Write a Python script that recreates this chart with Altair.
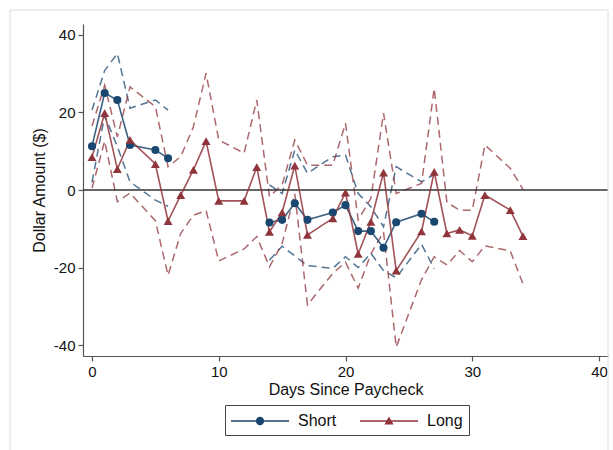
import altair as alt
import pandas as pd
import math

# ---------------- data ----------------
groups = ["Short", "Long"]
colors = ["#1a476f", "#90353b"]

short_days = [0, 1, 2, 3, 5, 6, 14, 15, 16, 17, 19, 20, 21, 22, 23, 24, 26, 27]
short_mean = [11.3, 25.0, 23.2, 11.6, 10.3, 8.2, -8.4, -7.7, -3.4, -7.7, -5.8, -3.9,
              -10.6, -10.6, -14.9, -8.3, -6.1, -8.2]
short_upper = [20.6, 30.8, 35.2, 21.1, 23.2, 20.6, 1.3, -0.9, 10.3, 4.3, 8.6, 9.0,
               -0.9, -4.3, -9.5, 6.0, 2.1, 4.0]
short_lower = [2.0, 19.2, 11.2, 2.1, -2.6, -4.2, -18.1, -14.5, -17.0, -19.5, -20.2, -17.2,
               -20.0, -16.3, -20.8, -22.6, -14.0, -20.3]

long_days = [0, 1, 2, 3, 5, 6, 7, 8, 9, 10, 12, 13, 14, 15, 16, 17, 19, 20, 21, 22, 23,
             24, 26, 27, 28, 29, 30, 31, 33, 34]
long_mean = [8.5, 19.8, 5.4, 12.9, 6.7, -8.0, -1.3, 5.2, 12.6, -2.8, -2.8, 5.9, -10.8,
             -5.8, 6.3, -11.6, -7.3, -0.7, -16.5, -8.2, 4.5, -20.8, -10.7, 4.7, -11.2,
             -10.3, -11.8, -1.3, -5.2, -11.9]
long_upper = [16.5, 27.0, 13.7, 26.6, 21.5, 6.0, 8.6, 16.3, 30.1, 12.9, 9.5, 23.2, -1.7,
              1.3, 12.9, 6.4, 6.4, 17.2, -7.7, -2.2, 19.8, -0.9, 1.7, 26.2, -3.2, -5.2,
              -5.2, 11.6, 5.6, 0.2]
long_lower = [0.5, 12.6, -3.0, -0.8, -7.9, -22.0, -11.2, -6.5, -5.3, -18.3, -15.2, -12.0,
              -19.8, -13.8, -1.0, -29.6, -21.5, -18.6, -25.3, -16.5, -10.8, -40.5, -23.1,
              -17.2, -19.3, -15.6, -18.5, -14.4, -15.7, -24.2]

x_ticks = [0, 10, 20, 30, 40]
y_ticks = [-40, -20, 0, 20, 40]


def segments(days, max_gap):
    seg, out = 0, []
    for i, d in enumerate(days):
        if i > 0 and d - days[i - 1] > max_gap:
            seg += 1
        out.append(seg)
    return out


def build(name, days, mean, upper, lower, max_gap):
    seg = segments(days, max_gap)
    m = pd.DataFrame({"day": days, "value": mean, "group": name, "seg": seg})
    m["key"] = name + "-" + m["seg"].astype(str)
    rows = []
    for bname, vals in (("upper", upper), ("lower", lower)):
        b = pd.DataFrame({"day": days, "value": vals, "group": name, "seg": seg})
        b["key"] = name + "-" + bname + "-" + b["seg"].astype(str)
        rows.append(b)
    return m, pd.concat(rows, ignore_index=True)


short_m, short_ci = build("Short", short_days, short_mean, short_upper, short_lower, 4)
long_m, long_ci = build("Long", long_days, long_mean, long_upper, long_lower, 4)

FONT = "Liberation Sans"
xscale = alt.Scale(domain=[-0.71, 40.71], nice=False, zero=False)
yscale = alt.Scale(domain=[-42.8, 42.8], nice=False, zero=False)
cscale = alt.Scale(domain=groups, range=colors)

x_axis = alt.Axis(values=x_ticks, title="Days Since Paycheck", grid=False,
                  tickSize=5, labelPadding=3, titlePadding=2,
                  labelExpr="'' + datum.value")
y_axis = alt.Axis(values=y_ticks, title="Dollar Amount ($)", grid=False,
                  tickSize=5, labelPadding=3, titlePadding=6,
                  labelExpr="'' + datum.value")

X = alt.X("day:Q", scale=xscale, axis=x_axis)
Y = alt.Y("value:Q", scale=yscale, axis=y_axis)


def ci_layer(df, col):
    return alt.Chart(df).mark_line(
        strokeDash=[8, 5], strokeWidth=1.5, opacity=0.75, color=col
    ).encode(x=X, y=Y, detail="key:N")


def line_layer(df, col):
    return alt.Chart(df).mark_line(
        strokeWidth=1.6, opacity=0.85, color=col
    ).encode(x=X, y=Y, detail="key:N")


zero = alt.Chart(pd.DataFrame({"value": [0]})).mark_rule(
    color="#333333", strokeWidth=1.3
).encode(y=Y)

short_pts = alt.Chart(short_m).mark_point(
    shape="circle", filled=True, size=65, opacity=1, color=colors[0]
).encode(x=X, y=Y)

long_pts = alt.Chart(long_m).mark_point(
    shape="triangle-up", filled=True, size=80, opacity=1, color=colors[1]
).encode(x=X, y=Y)


# legend symbols: line with marker (custom SVG paths, polygons only)
def circle_path(cx, r, n=16):
    pts = []
    for i in range(n):
        a = 2 * math.pi * i / n
        pts.append(f"{cx + r * math.cos(a):.3f} {r * math.sin(a):.3f}")
    return "M" + "L".join(pts) + "Z"


bar = "M-1 -0.08L4.8 -0.08L4.8 0.08L-1 0.08Z"
sym_short = bar + circle_path(1.9, 0.42)
sym_long = bar + "M1.9 -0.46L2.36 0.34L1.44 0.34Z"

legend_def = alt.Legend(
    orient="none", legendX=142, legendY=381, direction="horizontal", title=None,
    strokeColor="#444444", fillColor="white", padding=6, symbolSize=400,
    symbolStrokeWidth=0, symbolOpacity=1, labelOffset=47, columnPadding=23,
    labelFontSize=16, labelFont=FONT, labelColor="#111111", labelLimit=200,
)

key_df = pd.DataFrame({"day": [-100.0, -100.0], "value": [0.0, 0.0], "group": groups})
key_layer = alt.Chart(key_df).mark_point(filled=True, opacity=1, size=40).encode(
    x=X, y=Y,
    color=alt.Color("group:N", scale=cscale, legend=legend_def),
    shape=alt.Shape("group:N", scale=alt.Scale(domain=groups, range=[sym_short, sym_long]),
                    legend=legend_def),
)

# light outer frame of the graph region
frame = alt.Chart(pd.DataFrame({"a": [0]})).mark_rect(
    fillOpacity=0, stroke="#dcdcdc", strokeWidth=1
).encode(x=alt.value(-73), x2=alt.value(525), y=alt.value(-14), y2=alt.value(446))

chart = alt.layer(
    ci_layer(short_ci, colors[0]), ci_layer(long_ci, colors[1]), zero,
    line_layer(short_m, colors[0]), line_layer(long_m, colors[1]),
    short_pts, long_pts, key_layer, frame
).properties(
    width=525, height=332,
    autosize=alt.AutoSizeParams(type="none"),
    padding={"left": 83, "top": 24, "right": 5, "bottom": 94},
).configure_view(
    stroke="transparent", strokeWidth=0
).configure_axis(
    domainColor="#555555", domainWidth=1.2, tickColor="#555555", tickWidth=1.2,
    labelFont=FONT, labelFontSize=15, labelColor="#111111",
    titleFont=FONT, titleFontSize=16, titleFontWeight="normal", titleColor="#111111",
).configure_axisY(
    labelAngle=0
)

chart.save("out.html", embed_options={"renderer": "svg", "actions": False})
